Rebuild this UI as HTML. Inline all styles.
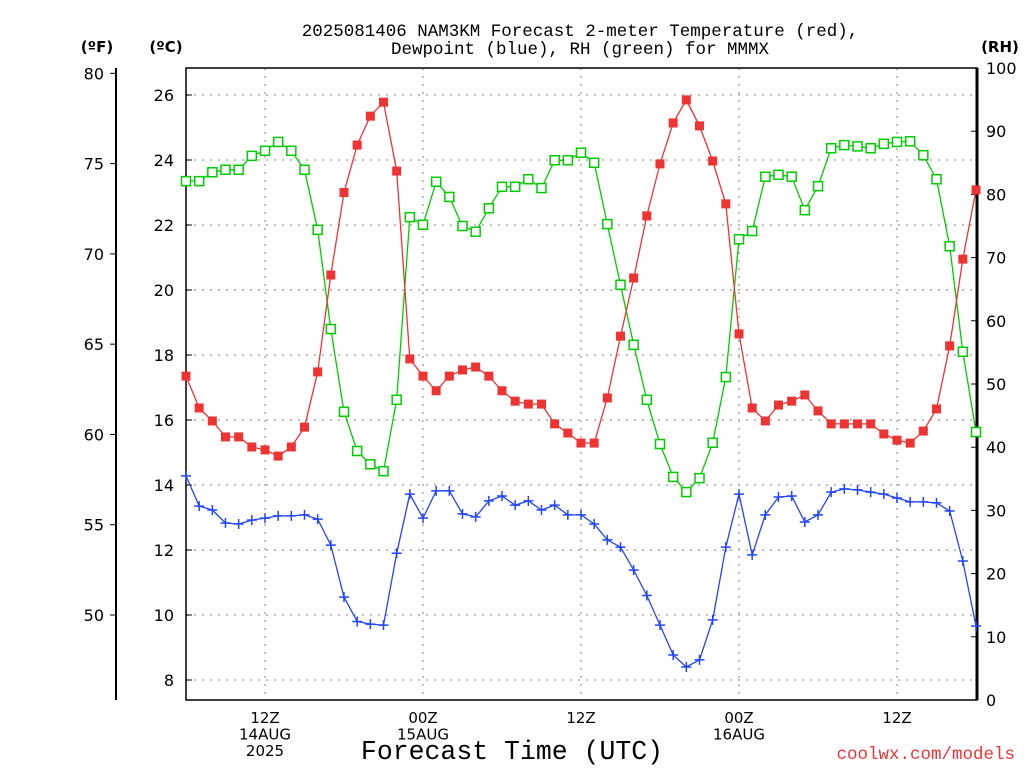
<!DOCTYPE html>
<html><head><meta charset="utf-8"><style>
html,body{margin:0;padding:0;background:#fff;}
svg{display:block;font-family:"DejaVu Sans","Liberation Sans",sans-serif;}
</style></head><body>
<svg id="chart" width="1024" height="768" viewBox="0 0 1024 768">
<g font-size="17.5" text-anchor="middle" fill="#000" font-family="Liberation Mono, monospace">
<text x="580" y="36">2025081406 NAM3KM Forecast 2-meter Temperature (red),</text>
<text x="580" y="54">Dewpoint (blue), RH (green) for MMMX</text>
</g>
<text x="97" y="52" font-size="15" font-weight="bold" text-anchor="middle">(ºF)</text>
<text x="166" y="52" font-size="15" font-weight="bold" text-anchor="middle">(ºC)</text>
<text x="1000" y="52" font-size="15" font-weight="bold" text-anchor="middle">(RH)</text>
<text x="512" y="759" font-size="26.5" text-anchor="middle" font-family="Liberation Mono, monospace">Forecast Time (UTC)</text>
<text x="1015" y="759" font-size="17.5" fill="#ee3333" text-anchor="end" font-family="Liberation Mono, monospace">coolwx.com/models</text>
<g id="grid"></g><g id="axes"></g><g id="series"></g>
</svg>
<script>
const hours = [];
for (let h = 6; h <= 66; h++) hours.push(h);
const tempC = [17.35,16.37,15.97,15.48,15.48,15.17,15.08,14.89,15.17,15.78,17.48,20.46,23.0,24.46,25.35,25.78,23.66,17.88,17.35,16.9,17.35,17.54,17.63,17.35,16.9,16.58,16.49,16.49,15.88,15.6,15.29,15.29,16.68,18.58,20.37,22.28,23.88,25.14,25.85,25.05,23.97,22.65,18.65,16.37,15.97,16.46,16.58,16.77,16.28,15.88,15.88,15.88,15.88,15.57,15.38,15.29,15.66,16.34,18.28,20.95,23.08];
const dewC = [14.28,13.35,13.23,12.83,12.8,12.92,12.98,13.05,13.05,13.08,12.95,12.15,10.55,9.8,9.72,9.69,11.9,13.72,12.98,13.82,13.82,13.11,13.02,13.51,13.66,13.38,13.51,13.23,13.38,13.08,13.08,12.8,12.31,12.09,11.38,10.6,9.69,8.77,8.4,8.62,9.85,12.09,13.72,11.85,13.08,13.63,13.66,12.86,13.08,13.78,13.88,13.85,13.78,13.72,13.6,13.48,13.48,13.45,13.2,11.66,9.66];
const rh = [82.1,82.1,83.5,83.9,83.9,86.1,86.9,88.3,86.9,83.9,74.4,58.7,45.6,39.4,37.3,36.2,47.5,76.4,75.2,82.0,79.6,75.0,74.1,77.8,81.2,81.2,82.4,81.0,85.4,85.4,86.6,85.0,75.3,65.7,56.2,47.5,40.5,35.3,32.9,35.1,40.7,51.1,72.9,74.2,82.8,83.1,82.8,77.5,81.3,87.3,87.8,87.6,87.3,88.0,88.3,88.4,86.2,82.4,71.8,55.1,42.4];
const cTicks = [8,10,12,14,16,18,20,22,24,26];
const fTicks = [50,55,60,65,70,75,80];
const rhTicks = [0,10,20,30,40,50,60,70,80,90,100];
const xTickHours = [12,24,36,48,60];
const xTickLabels = [["12Z","14AUG","2025"],["00Z","15AUG"],["12Z"],["00Z","16AUG"],["12Z"]];

const L=186,R=977,T=68,B=700;
const xS=h=>265+(h-12)*(158/12);
const yC=c=>95+(26-c)*32.5;
const yF=f=>yC((f-32)/1.8);
const yRH=v=>B-v*(B-T)/100;
const NS="http://www.w3.org/2000/svg";
function mk(tag,attrs,parent,txt){const e=document.createElementNS(NS,tag);for(const k in attrs)e.setAttribute(k,attrs[k]);if(txt!==undefined)e.textContent=txt;parent.appendChild(e);return e;}
const grid=document.getElementById('grid'),axes=document.getElementById('axes'),ser=document.getElementById('series');
cTicks.forEach(c=>{
  const g=mk('line',{x1:L,x2:R,y1:yC(c),y2:yC(c),stroke:'#aaa','stroke-dasharray':'2,6','stroke-width':1.5},grid);
  
  
  const tk=mk('line',{x1:L,x2:L+6,y1:yC(c),y2:yC(c),stroke:'#000'},axes);
  
  
  const t=mk('text',{x:174,y:yC(c)+6,'font-size':16,'text-anchor':'end'},axes,String(c));
  
  
});
xTickHours.forEach((h,i)=>{
  const g=mk('line',{x1:xS(h),x2:xS(h),y1:T,y2:B,stroke:'#aaa','stroke-dasharray':'2,6','stroke-width':1.5},grid);
  
  
  xTickLabels[i].forEach((s,j)=>{
    const t=mk('text',{x:xS(h),y:723+j*16.5,'font-size':15,'text-anchor':'middle'},axes,s);
    
    
  });
});
const fr=mk('rect',{x:L,y:T,width:R-L,height:B-T,fill:'none',stroke:'#000','stroke-width':1.5},axes);


const rl=mk('line',{x1:R,x2:R,y1:T,y2:B,stroke:'#000','stroke-width':3},axes);


const fl=mk('line',{x1:116,x2:116,y1:T,y2:B,stroke:'#000','stroke-width':2},axes);


fTicks.forEach(f=>{
  const tk=mk('line',{x1:110,x2:116,y1:yF(f),y2:yF(f),stroke:'#000'},axes);
  
  
  const t=mk('text',{x:104,y:yF(f)+6,'font-size':16,'text-anchor':'end'},axes,String(f));
  
  
});
rhTicks.forEach(v=>{
  const tk=mk('line',{x1:R-6,x2:R,y1:yRH(v),y2:yRH(v),stroke:'#000'},axes);
  
  
  const t=mk('text',{x:986,y:yRH(v)+6,'font-size':16,'text-anchor':'start'},axes,String(v));
  
  
});
function line(vals,yf,color,name){
  const pts=vals.map((v,i)=>xS(hours[i]).toFixed(1)+','+yf(v).toFixed(1)).join(' ');
  const p=mk('polyline',{points:pts,fill:'none',stroke:color,'stroke-width':1.3},ser);
  
  
}
line(rh,yRH,'#00cc00','rh');
line(tempC,yC,'#ee3333','temperature');
line(dewC,yC,'#2244ff','dewpoint');
rh.forEach((v,i)=>{
  const m=mk('rect',{x:xS(hours[i])-4.5,y:yRH(v)-4.5,width:9,height:9,fill:'#fff',stroke:'#00cc00','stroke-width':1.5},ser);
  
  
});
tempC.forEach((v,i)=>{
  const m=mk('rect',{x:xS(hours[i])-4.5,y:yC(v)-4.5,width:9,height:9,fill:'#ee3333'},ser);
  
  
});
dewC.forEach((v,i)=>{
  const x=xS(hours[i]),y=yC(v);
  const m=mk('path',{d:`M${x-5},${y}H${x+5}M${x},${y-5}V${y+5}`,stroke:'#2244ff','stroke-width':1.5},ser);
  
  
});
</script>
</body></html>
